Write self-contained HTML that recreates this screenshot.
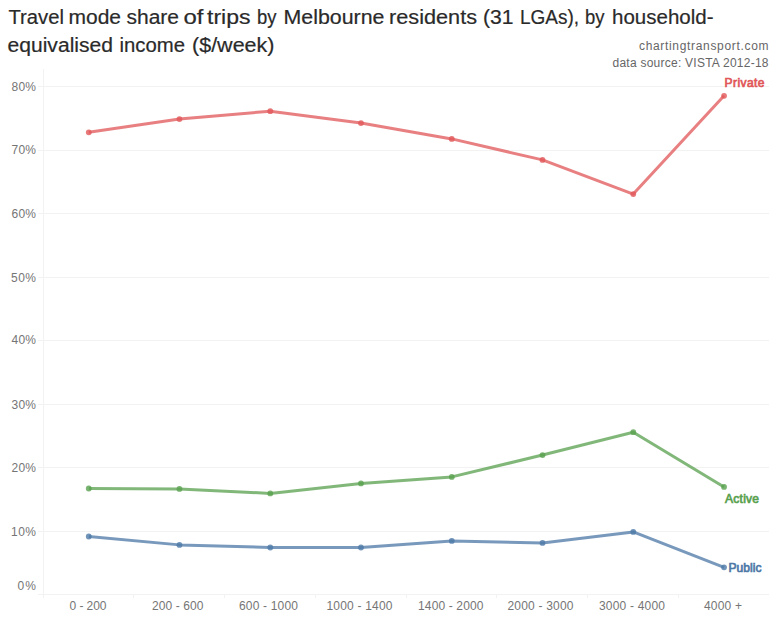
<!DOCTYPE html>
<html><head><meta charset="utf-8"><style>
html,body{margin:0;padding:0;background:#fff;}
svg{display:block;}
text{font-family:"Liberation Sans",sans-serif;}
.title{font-size:20px;fill:#2a2a2a;stroke:#2a2a2a;stroke-width:0.2px;}
.src{font-size:12px;fill:#666;}
.ax{font-size:12px;fill:#757575;}
.lab{font-size:12px;font-weight:normal;stroke-width:0.7px;}
</style></head><body>
<svg width="772" height="622" viewBox="0 0 772 622">
<text x="8.50" y="23.7" class="title" textLength="55.50" lengthAdjust="spacingAndGlyphs">Travel</text><text x="68.50" y="23.7" class="title" textLength="52.50" lengthAdjust="spacingAndGlyphs">mode</text><text x="126.50" y="23.7" class="title" textLength="52.50" lengthAdjust="spacingAndGlyphs">share</text><text x="183.50" y="23.7" class="title" textLength="20.00" lengthAdjust="spacingAndGlyphs">of</text><text x="207.00" y="23.7" class="title" textLength="43.50" lengthAdjust="spacingAndGlyphs">trips</text><text x="257.00" y="23.7" class="title" textLength="19.50" lengthAdjust="spacingAndGlyphs">by</text><text x="283.50" y="23.7" class="title" textLength="101.00" lengthAdjust="spacingAndGlyphs">Melbourne</text><text x="389.00" y="23.7" class="title" textLength="88.00" lengthAdjust="spacingAndGlyphs">residents</text><text x="483.00" y="23.7" class="title" textLength="30.50" lengthAdjust="spacingAndGlyphs">(31</text><text x="520.00" y="23.7" class="title" textLength="59.00" lengthAdjust="spacingAndGlyphs">LGAs),</text><text x="585.00" y="23.7" class="title" textLength="19.50" lengthAdjust="spacingAndGlyphs">by</text><text x="612.00" y="23.7" class="title" textLength="101.50" lengthAdjust="spacingAndGlyphs">household-</text><text x="7.50" y="52.0" class="title" textLength="105.50" lengthAdjust="spacingAndGlyphs">equivalised</text><text x="119.50" y="52.0" class="title" textLength="65.50" lengthAdjust="spacingAndGlyphs">income</text><text x="192.00" y="52.0" class="title" textLength="82.50" lengthAdjust="spacingAndGlyphs">($/week)</text>
<text x="639.00" y="50.2" class="src" textLength="129.50" lengthAdjust="spacing">chartingtransport.com</text>
<text x="612.50" y="66.9" class="src" textLength="156.00" lengthAdjust="spacing">data source: VISTA 2012-18</text>
<rect x="43" y="69" width="1" height="529" fill="#f2f2f2"/>
<rect x="38" y="86" width="731" height="1" fill="#f2f2f2"/><rect x="38" y="150" width="731" height="1" fill="#f2f2f2"/><rect x="38" y="213" width="731" height="1" fill="#f2f2f2"/><rect x="38" y="277" width="731" height="1" fill="#f2f2f2"/><rect x="38" y="340" width="731" height="1" fill="#f2f2f2"/><rect x="38" y="404" width="731" height="1" fill="#f2f2f2"/><rect x="38" y="467" width="731" height="1" fill="#f2f2f2"/><rect x="38" y="531" width="731" height="1" fill="#f2f2f2"/>
<rect x="38" y="594" width="731" height="1" fill="#f2f2f2"/>
<rect x="133" y="595" width="1" height="3" fill="#f2f2f2"/><rect x="224" y="595" width="1" height="3" fill="#f2f2f2"/><rect x="315" y="595" width="1" height="3" fill="#f2f2f2"/><rect x="406" y="595" width="1" height="3" fill="#f2f2f2"/><rect x="496" y="595" width="1" height="3" fill="#f2f2f2"/><rect x="587" y="595" width="1" height="3" fill="#f2f2f2"/><rect x="678" y="595" width="1" height="3" fill="#f2f2f2"/>
<text x="11.50" y="90.9" class="ax" textLength="24.50" lengthAdjust="spacing">80%</text><text x="11.50" y="154.3" class="ax" textLength="24.50" lengthAdjust="spacing">70%</text><text x="11.50" y="217.6" class="ax" textLength="24.50" lengthAdjust="spacing">60%</text><text x="11.00" y="281.9" class="ax" textLength="25.00" lengthAdjust="spacing">50%</text><text x="11.50" y="344.3" class="ax" textLength="24.50" lengthAdjust="spacing">40%</text><text x="11.50" y="408.6" class="ax" textLength="24.50" lengthAdjust="spacing">30%</text><text x="11.50" y="471.9" class="ax" textLength="24.50" lengthAdjust="spacing">20%</text><text x="11.00" y="535.8" class="ax" textLength="25.00" lengthAdjust="spacing">10%</text><text x="17.50" y="589.8" class="ax" textLength="18.50" lengthAdjust="spacing">0%</text>
<text x="69.50" y="609.9" class="ax" textLength="37.00" lengthAdjust="spacing">0 - 200</text><text x="152.00" y="609.9" class="ax" textLength="51.50" lengthAdjust="spacing">200 - 600</text><text x="239.00" y="609.9" class="ax" textLength="59.00" lengthAdjust="spacing">600 - 1000</text><text x="326.50" y="609.9" class="ax" textLength="66.00" lengthAdjust="spacing">1000 - 1400</text><text x="418.00" y="609.9" class="ax" textLength="65.50" lengthAdjust="spacing">1400 - 2000</text><text x="507.50" y="609.9" class="ax" textLength="66.00" lengthAdjust="spacing">2000 - 3000</text><text x="599.00" y="609.9" class="ax" textLength="66.00" lengthAdjust="spacing">3000 - 4000</text><text x="704.00" y="609.9" class="ax" textLength="38.00" lengthAdjust="spacing">4000 +</text>
<polyline points="88.77,132.30 179.47,119.03 270.27,111.18 360.96,123.03 451.77,138.91 542.50,159.91 633.27,194.03 724.05,95.79" fill="none" stroke="#e15759" stroke-opacity="0.76" stroke-width="3" stroke-linejoin="round"/>
<polyline points="88.77,488.49 179.47,488.88 270.27,493.42 360.96,483.42 451.77,476.91 542.50,455.03 633.27,432.18 724.05,486.91" fill="none" stroke="#59a14f" stroke-opacity="0.76" stroke-width="3" stroke-linejoin="round"/>
<polyline points="88.77,536.49 179.47,544.88 270.27,547.49 360.96,547.49 451.77,540.91 542.50,542.91 633.27,531.91 724.05,567.30" fill="none" stroke="#4e79a7" stroke-opacity="0.76" stroke-width="3" stroke-linejoin="round"/>
<circle cx="88.77" cy="132.30" r="2.9" fill="#e15759" fill-opacity="0.8"/><circle cx="179.47" cy="119.03" r="2.9" fill="#e15759" fill-opacity="0.8"/><circle cx="270.27" cy="111.18" r="2.9" fill="#e15759" fill-opacity="0.8"/><circle cx="360.96" cy="123.03" r="2.9" fill="#e15759" fill-opacity="0.8"/><circle cx="451.77" cy="138.91" r="2.9" fill="#e15759" fill-opacity="0.8"/><circle cx="542.50" cy="159.91" r="2.9" fill="#e15759" fill-opacity="0.8"/><circle cx="633.27" cy="194.03" r="2.9" fill="#e15759" fill-opacity="0.8"/><circle cx="724.05" cy="95.79" r="2.9" fill="#e15759" fill-opacity="0.8"/><circle cx="88.77" cy="488.49" r="2.9" fill="#59a14f" fill-opacity="0.8"/><circle cx="179.47" cy="488.88" r="2.9" fill="#59a14f" fill-opacity="0.8"/><circle cx="270.27" cy="493.42" r="2.9" fill="#59a14f" fill-opacity="0.8"/><circle cx="360.96" cy="483.42" r="2.9" fill="#59a14f" fill-opacity="0.8"/><circle cx="451.77" cy="476.91" r="2.9" fill="#59a14f" fill-opacity="0.8"/><circle cx="542.50" cy="455.03" r="2.9" fill="#59a14f" fill-opacity="0.8"/><circle cx="633.27" cy="432.18" r="2.9" fill="#59a14f" fill-opacity="0.8"/><circle cx="724.05" cy="486.91" r="2.9" fill="#59a14f" fill-opacity="0.8"/><circle cx="88.77" cy="536.49" r="2.9" fill="#4e79a7" fill-opacity="0.8"/><circle cx="179.47" cy="544.88" r="2.9" fill="#4e79a7" fill-opacity="0.8"/><circle cx="270.27" cy="547.49" r="2.9" fill="#4e79a7" fill-opacity="0.8"/><circle cx="360.96" cy="547.49" r="2.9" fill="#4e79a7" fill-opacity="0.8"/><circle cx="451.77" cy="540.91" r="2.9" fill="#4e79a7" fill-opacity="0.8"/><circle cx="542.50" cy="542.91" r="2.9" fill="#4e79a7" fill-opacity="0.8"/><circle cx="633.27" cy="531.91" r="2.9" fill="#4e79a7" fill-opacity="0.8"/><circle cx="724.05" cy="567.30" r="2.9" fill="#4e79a7" fill-opacity="0.8"/>
<text x="724.50" y="86.7" class="lab" textLength="40.00" lengthAdjust="spacing" fill="#e15759" stroke="#e15759">Private</text>
<text x="725.00" y="502.6" class="lab" textLength="34.00" lengthAdjust="spacing" fill="#59a14f" stroke="#59a14f">Active</text>
<text x="728.50" y="571.9" class="lab" textLength="33.00" lengthAdjust="spacing" fill="#4e79a7" stroke="#4e79a7">Public</text>
</svg>
</body></html>
